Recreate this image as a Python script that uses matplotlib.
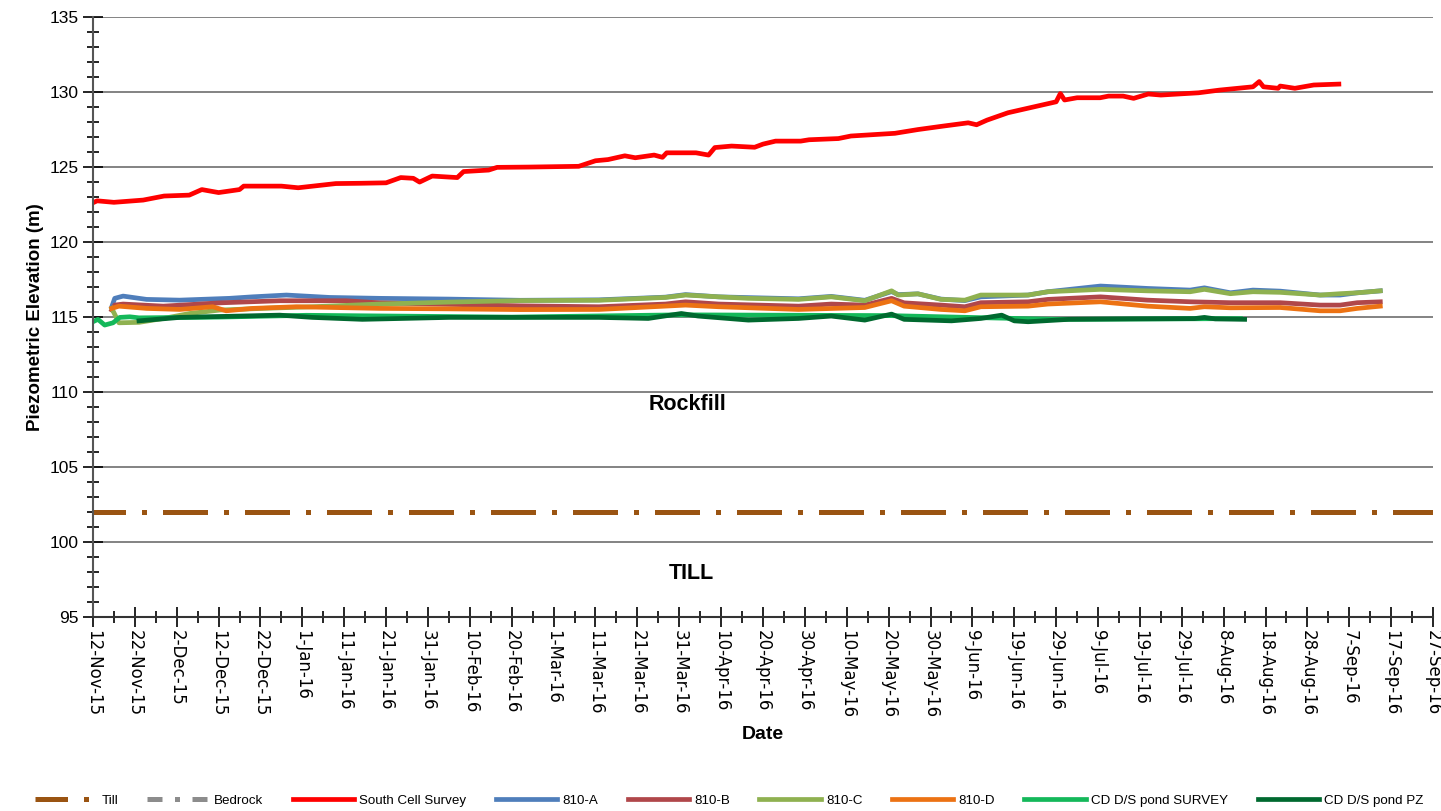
import numpy as np
import pandas as pd
import matplotlib
matplotlib.use('Agg')
import matplotlib.pyplot as plt
from matplotlib import font_manager
from matplotlib.ticker import FuncFormatter, MultipleLocator

plt.rcParams['font.family'] = ['Liberation Sans', 'DejaVu Sans']

# all series: days after 12-Nov-15, piezometric elevation (m)
start = pd.Timestamp('2015-11-12')
end = pd.Timestamp('2016-09-27')

survey_day = [0, 1, 5, 12, 17, 23, 26, 30, 35, 36, 45, 49, 58, 64, 70, 73.5, 76.5, 78, 81, 87,
              88.5, 94.5, 96.5, 104, 116, 120, 123, 127, 129.5, 134, 136, 137, 144, 147, 148.5,
              152.5, 158, 160, 163, 169, 171, 178, 181, 191.5, 197, 203, 209, 211, 213.5, 218.5,
              230, 231, 232, 235, 240.5, 242.5, 246, 248.5, 252, 255, 264, 269, 277, 278.5,
              279.5, 283, 283.5, 287, 291.5, 297.5]
survey_elev = [122.62, 122.75, 122.65, 122.8, 123.07, 123.13, 123.5, 123.3, 123.5, 123.73, 123.73,
               123.62, 123.9, 123.92, 123.95, 124.3, 124.25, 124.0, 124.4, 124.3, 124.7, 124.8,
               124.98, 125.0, 125.05, 125.42, 125.5, 125.75, 125.62, 125.8, 125.65, 125.95, 125.95,
               125.8, 126.3, 126.4, 126.32, 126.53, 126.73, 126.73, 126.82, 126.9, 127.07, 127.25,
               127.5, 127.73, 127.95, 127.82, 128.13, 128.62, 129.35, 129.9, 129.47, 129.62,
               129.62, 129.73, 129.73, 129.58, 129.87, 129.8, 129.95, 130.13, 130.35, 130.7,
               130.35, 130.25, 130.4, 130.25, 130.47, 130.53]

pz_day = [4.5, 5.2, 7.2, 12.8, 20.7, 32.6, 38.1, 46.2, 56.5, 68.4, 85, 102, 120.8, 136.7, 141.5,
          149.4, 156.5, 168.5, 176.3, 184.3, 190.7, 192.3, 197, 202.5, 208.2, 212, 223.3, 228,
          240.6, 251.8, 262, 265.4, 271.6, 277, 283.5, 293, 297.8, 301.9, 307.4]
a_elev = [115.69, 116.25, 116.4, 116.18, 116.13, 116.25, 116.35, 116.47, 116.31, 116.25, 116.2,
          116.12, 116.15, 116.33, 116.5, 116.35, 116.3, 116.22, 116.38, 116.12, 116.7, 116.5,
          116.55, 116.2, 116.1, 116.35, 116.47, 116.69, 117.07, 116.91, 116.8, 116.95, 116.62,
          116.8, 116.73, 116.47, 116.47, 116.62, 116.75]

c_day = [4.5, 6.2, 11, 16.8, 23.1, 30.3, 40.5, 52.4, 68.4, 85, 102, 120.8, 136.7, 141.5, 149.4,
         156.5, 168.5, 176.3, 184.3, 190.7, 192.3, 197, 202.5, 208.2, 212, 223.3, 228, 240.6,
         251.8, 262, 265.4, 271.6, 277, 283.5, 293, 297.8, 301.9, 307.4]
c_elev = [115.58, 114.62, 114.65, 114.91, 115.24, 115.47, 115.58, 115.69, 115.87, 116.0, 116.1,
          116.12, 116.31, 116.47, 116.35, 116.25, 116.18, 116.35, 116.09, 116.75, 116.47, 116.55,
          116.18, 116.13, 116.47, 116.47, 116.69, 116.85, 116.75, 116.69, 116.85, 116.56, 116.69,
          116.65, 116.47, 116.56, 116.62, 116.75]

b_day = [4.5, 5.2, 7.2, 16.8, 30.3, 44.6, 60.4, 68.4, 85, 102, 120.8, 136.7, 141.5, 149.4, 168.5,
         176.3, 184.3, 190.7, 193.7, 202.5, 208.2, 212, 223.3, 228, 240.6, 251.8, 262, 271.6,
         283.5, 293, 297.8, 301.9, 307.4]
b_elev = [115.47, 115.8, 115.87, 115.73, 115.95, 116.09, 116.09, 115.95, 115.85, 115.75, 115.69,
          115.87, 116.02, 115.87, 115.73, 115.87, 115.8, 116.25, 115.95, 115.8, 115.69, 115.96,
          116.02, 116.18, 116.35, 116.13, 116.02, 115.96, 115.96, 115.8, 115.8, 115.96, 116.02]

d_day = [4.5, 6.2, 12.8, 20.7, 28.6, 31.8, 38.1, 48.5, 68.4, 85, 102, 120.8, 141.5, 149.4, 168.5,
         184.3, 190.7, 193.7, 202.5, 208.2, 212, 223.3, 228, 240.6, 251.8, 262, 265.4, 271.6,
         283.5, 293, 297.8, 301.9, 307.4]
d_elev = [115.58, 115.73, 115.58, 115.51, 115.69, 115.42, 115.58, 115.69, 115.58, 115.55, 115.5,
          115.51, 115.8, 115.69, 115.51, 115.64, 116.09, 115.73, 115.51, 115.42, 115.69, 115.73,
          115.87, 116.02, 115.73, 115.58, 115.69, 115.62, 115.64, 115.42, 115.42, 115.58, 115.73]

pond_survey_day = [0, 1.2, 2.8, 4.8, 6.4, 8.8, 11, 30, 51, 100, 140, 190, 230, 274]
pond_survey_elev = [114.69, 114.85, 114.47, 114.62, 114.98, 115.02, 114.95, 115.0, 115.12, 115.0,
                    115.15, 115.1, 114.85, 114.9]

pond_pz_day = [11, 20.7, 44.6, 52.4, 64.3, 85, 120.8, 132.6, 140.5, 144.5, 156.5, 168.5, 176.3,
               184.3, 190.7, 193.7, 205, 212, 217, 220, 223.3, 233, 248, 263, 265.4, 268, 275]
pond_pz_elev = [114.75, 114.98, 115.13, 114.98, 114.85, 114.98, 114.98, 114.91, 115.24, 115.07,
                114.8, 114.91, 115.07, 114.8, 115.2, 114.85, 114.75, 114.91, 115.13, 114.75, 114.69,
                114.85, 114.88, 114.9, 114.98, 114.88, 114.85]

till_elev = 102.0


def to_date(days):
    return start + pd.to_timedelta(np.array(days), unit='D')


installed = {f.name for f in font_manager.fontManager.ttflist}
narrow = [f for f in ['Liberation Sans Narrow', 'DejaVu Sans Condensed'] if f in installed]
legend_size = 10.5 if narrow else 9.6

fig = plt.figure(figsize=(14.41, 8.11), dpi=100)
ax = fig.add_axes([0.0645, 0.239, 0.930, 0.740])

lw = 3.4
ax.plot([start, end], [till_elev, till_elev], color='#9A5412', lw=3.6,
        linestyle=(2.5, (9, 3.2, 1, 3.2)), solid_capstyle='butt', dash_capstyle='butt', label='Till')
ax.plot([], [], color='#8C8C8C', lw=3.6, linestyle=(0, (3, 2.5, 1, 2.5)), label='Bedrock')
ax.plot(to_date(survey_day), survey_elev, color='#FF0000', lw=lw, label='South Cell Survey')
ax.plot(to_date(pz_day), a_elev, color='#4F7EBB', lw=lw, label='810-A')
ax.plot(to_date(b_day), b_elev, color='#B0474A', lw=lw, label='810-B')
ax.plot(to_date(c_day), c_elev, color='#8FB150', lw=lw, label='810-C')
ax.plot(to_date(d_day), d_elev, color='#EC7213', lw=lw, label='810-D')
ax.plot(to_date(pond_survey_day), pond_survey_elev, color='#14B85A', lw=lw, label='CD D/S pond SURVEY')
ax.plot(to_date(pond_pz_day), pond_pz_elev, color='#00692F', lw=lw, label='CD D/S pond PZ')

ax.text(start + pd.Timedelta(days=142), 109.2, 'Rockfill', fontsize=15.5, fontweight='bold', ha='center', va='center')
ax.text(start + pd.Timedelta(days=143), 97.9, 'TILL', fontsize=15.5, fontweight='bold', ha='center', va='center')

ax.set_ylim(95, 135)
ax.set_xlim(start, end)
ax.yaxis.set_major_locator(MultipleLocator(5))
ax.yaxis.set_minor_locator(MultipleLocator(1))
ax.set_xticks(pd.date_range(start, end, freq='10D'))
ax.set_xticks(pd.date_range(start, end, freq='5D'), minor=True)
ax.xaxis.set_major_formatter(FuncFormatter(
    lambda v, p: (lambda d: f"{d.day}-{d:%b-%y}")(matplotlib.dates.num2date(v))))
ax.tick_params(axis='x', which='major', labelsize=12, direction='inout', length=14, width=1.2,
               labelfontfamily='DejaVu Sans', pad=2)
ax.tick_params(axis='x', which='minor', direction='inout', length=9, width=1.2)
ax.tick_params(axis='y', which='major', labelsize=12.5, direction='inout', length=14, width=1.2)
ax.tick_params(axis='y', which='minor', direction='inout', length=9, width=1.2)
plt.setp(ax.get_xticklabels(), rotation=-90, ha='center', va='top')

ax.grid(axis='y', which='major', color='#6E6E6E', lw=1.2)
ax.set_axisbelow(True)
for s in ['top', 'right']:
    ax.spines[s].set_visible(False)
ax.spines['left'].set_color('#555555')
ax.spines['bottom'].set_color('#333333')
ax.spines['left'].set_linewidth(1.5)
ax.spines['bottom'].set_linewidth(1.5)

ax.set_xlabel('Date', fontsize=14, fontweight='bold', labelpad=6)
ax.set_ylabel('Piezometric Elevation (m)', fontsize=13.5, fontweight='bold', labelpad=4)

handles, labels = ax.get_legend_handles_labels()
fig.legend(handles, labels, loc='center', bbox_to_anchor=(0.506, 0.013), ncol=9, frameon=False,
           prop={'family': narrow + ['Liberation Sans'], 'size': legend_size},
           handlelength=4.6, columnspacing=2.2, handletextpad=0.4)

fig.savefig('out.png', dpi=100)
